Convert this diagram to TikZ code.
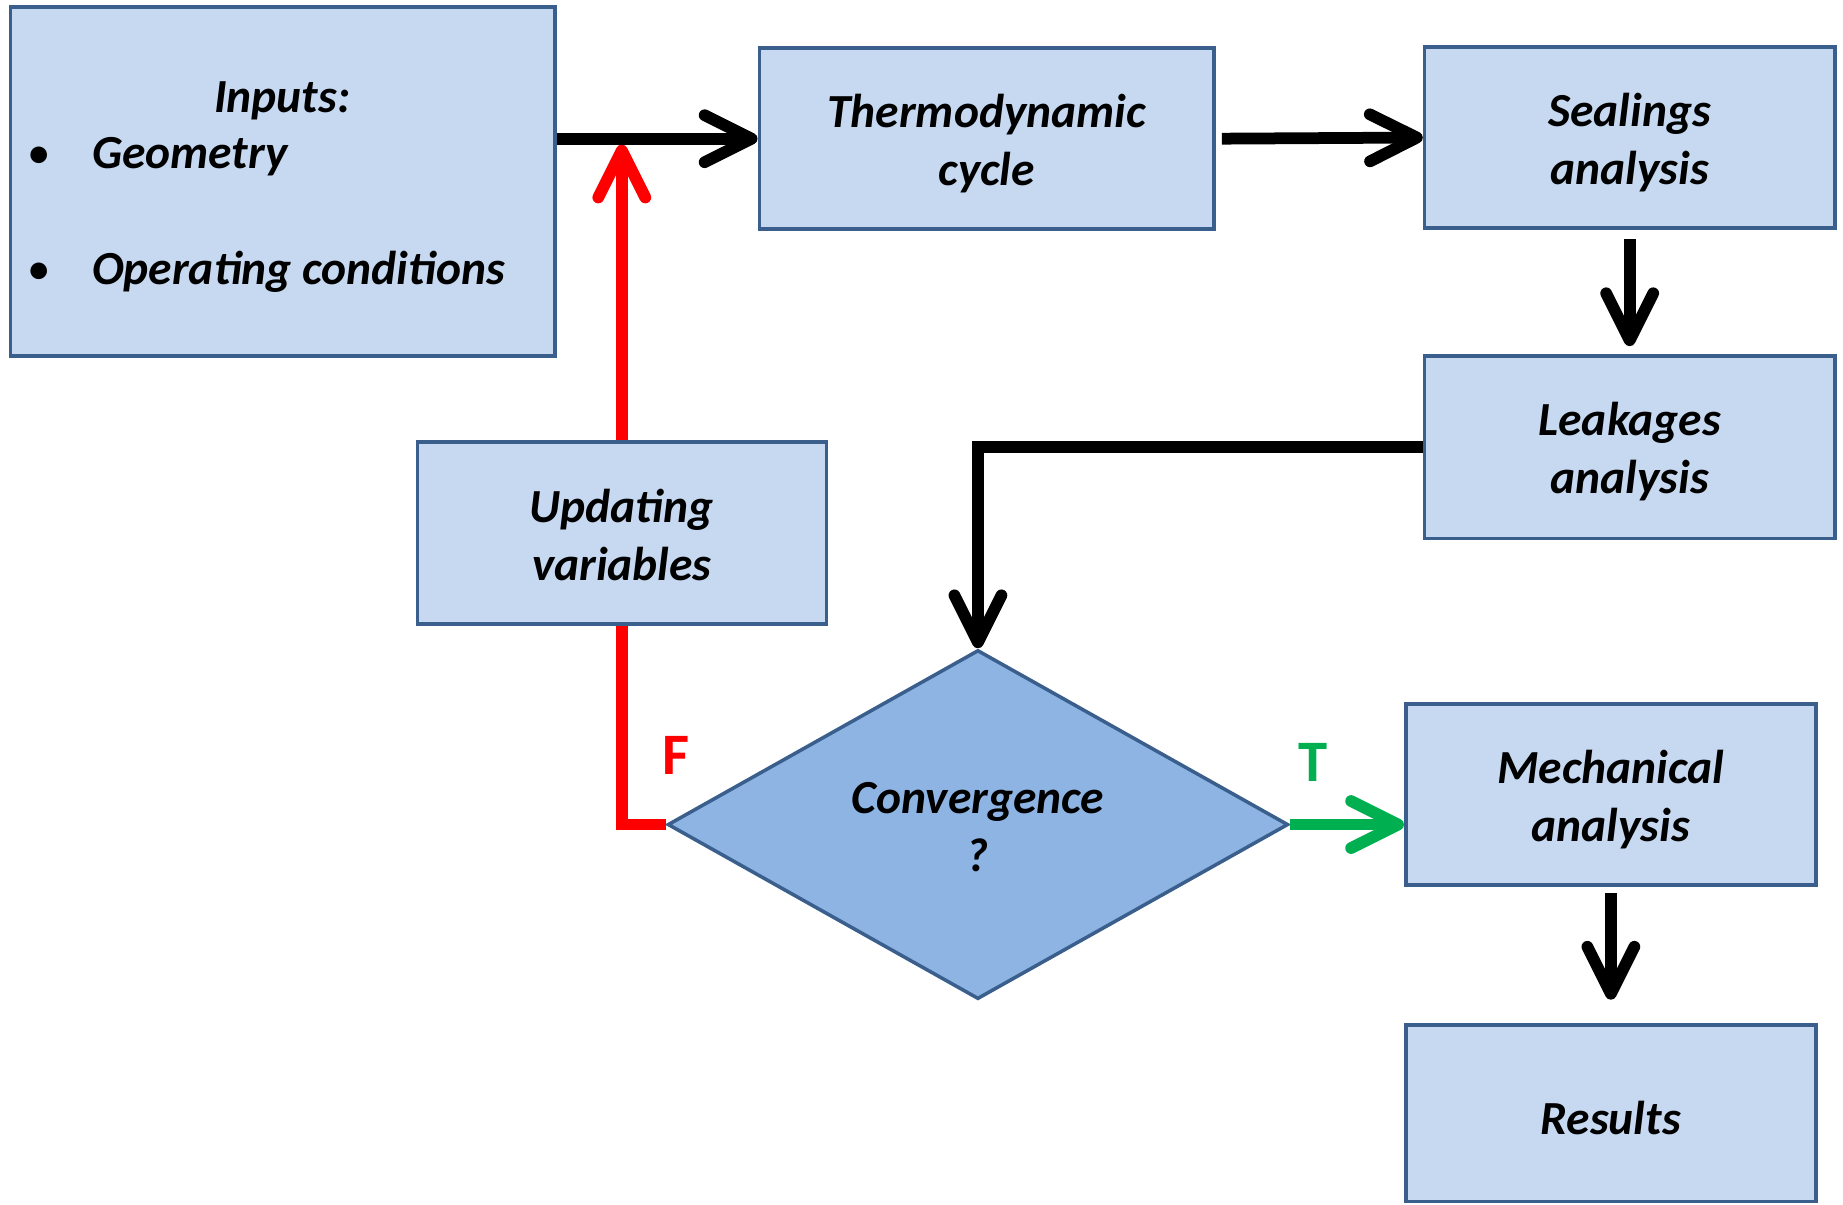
\documentclass[tikz,border=0pt]{standalone}
\usepackage{fontspec}
\setmainfont{Carlito}
\usetikzlibrary{arrows.meta,shapes.geometric}
\definecolor{boxfill}{HTML}{C6D9F1}
\definecolor{boxline}{HTML}{3A5F8D}
\definecolor{diafill}{HTML}{8EB4E3}
\definecolor{tgreen}{HTML}{00B050}
\definecolor{fred}{HTML}{FF0000}
\newcommand\flowfont{\fontsize{20.2}{24.6}\selectfont\bfseries\itshape}
\newcommand\tffont{\fontsize{25}{30}\selectfont\bfseries}
\begin{document}
\begin{tikzpicture}[x=0.5pt,y=-0.5pt,
  box/.style={draw=boxline, fill=boxfill, line width=1.5pt, inner sep=0pt},
  txt/.style={inner sep=0pt, font=\flowfont, align=center},
  conn/.style={line width=5pt, -{Straight Barb[length=20pt,width=20pt,round]}},
  plain/.style={line width=5pt}]
\useasboundingbox (0,0) rectangle (1568,1025);

% boxes
\node[box, minimum width=231.5pt, minimum height=148.5pt] (inputs) at (240.5,154.5) {};
\node[txt, anchor=base] (inhead) at (240,96) {Inputs:};
\node[inner sep=0pt, font=\fontsize{20}{24}\selectfont, anchor=base] (b1) at (33,143) {•};
\node[txt, anchor=base west] (geo) at (78,143) {Geometry};
\node[inner sep=0pt, font=\fontsize{20}{24}\selectfont, anchor=base] (b2) at (33,242) {•};
\node[txt, anchor=base west] (opc) at (78,242) {Operating conditions};

\node[box, minimum width=193.5pt, minimum height=77pt] (thermo) at (839.5,118) {};
\node[txt] (thermoT) at ([yshift=-2pt]thermo.center) {Thermodynamic\\cycle};
\node[box, minimum width=174.5pt, minimum height=77pt] (seal) at (1386.5,117) {};
\node[txt] (sealT) at ([yshift=-2pt]seal.center) {Sealings\\analysis};
\node[box, minimum width=174.5pt, minimum height=77.5pt] (leak) at (1386.5,380.5) {};
\node[txt] (leakT) at ([yshift=-2pt]leak.center) {Leakages\\analysis};
\node[box, minimum width=174pt, minimum height=77.5pt] (upd) at (529,453.5) {};
\node[txt] (updT) at ([yshift=-1pt]upd.center) {Updating\\variables};
\node[box, minimum width=174.5pt, minimum height=77pt] (mech) at (1370.5,676) {};
\node[txt] (mechT) at ([yshift=-2pt]mech.center) {Mechanical\\analysis};
\node[box, minimum width=174.5pt, minimum height=75pt] (res) at (1370.5,947) {};
\node[txt] (resT) at ([yshift=-2pt]res.center) {Results};
\node[diamond, draw=boxline, fill=diafill, line width=1.5pt, inner sep=0pt,
      minimum width=264pt, minimum height=148.5pt] (dia) at (832,701.5) {};
\node[txt] (diaT) at ([yshift=-1pt]dia.center) {Convergence\\?};

% red feedback path
\draw[plain, fred] (dia.west) -| (upd.south);
\draw[conn, fred, shorten >=2.5pt] (upd.north) -- (upd.north |- thermo.west);

% black connectors
\draw[conn] (thermo.west -| inputs.east) -- (thermo.west);
\draw[conn, shorten <=2.5pt] (thermo.east) -- (seal.west);
\draw[conn, shorten <=4pt, shorten >=3.5pt] (seal.south) -- (leak.north);
\draw[conn] (leak.west) -| (dia.north);
\draw[conn, tgreen] (dia.east) -- (dia.east -| mech.west);
\draw[conn, shorten <=2.5pt, shorten >=10pt] (mech.south) -- (res.north);

% labels
\node[inner sep=0pt, font=\tffont, text=fred] (flab) at (575,643) {F};
\node[inner sep=0pt, font=\tffont, text=tgreen] (tlab) at (1117,649) {T};
\end{tikzpicture}
\end{document}
